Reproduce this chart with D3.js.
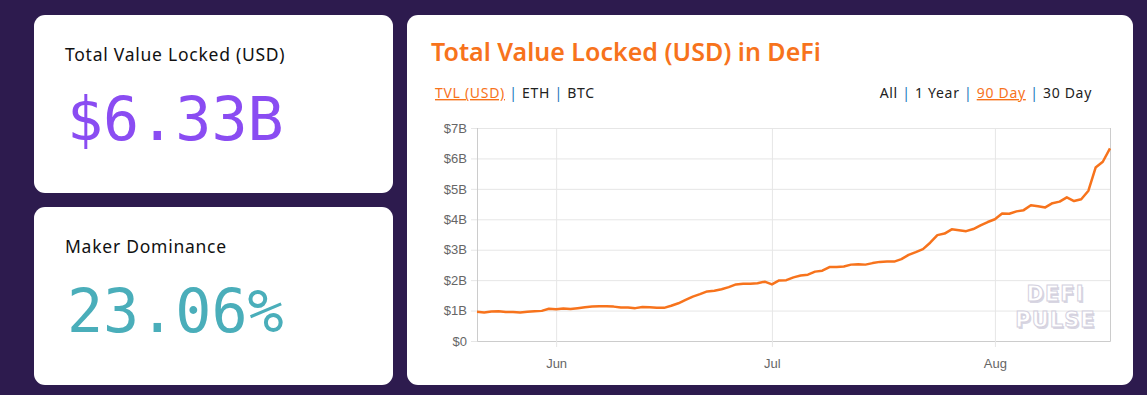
<!DOCTYPE html>
<html>
<head>
<meta charset="utf-8">
<script src="https://cdn.jsdelivr.net/npm/d3@7"></script>
<style>
  html, body { margin: 0; padding: 0; background: #2d1b4e; }
  svg { display: block; }
  .lbl { font-family: "Noto Sans", sans-serif; }
  .axis text { font-family: "Liberation Sans", Arial, sans-serif; fill: #666; }
</style>
</head>
<body>
<div id="root"></div>
<script>
// chart data: daily TVL in billions USD, 21 May - 17 Aug 2020
var startDate = new Date(2020, 4, 21);
var tvlValues = [
  0.96, 0.94, 0.97, 0.98, 0.95, 0.95, 0.94, 0.96, 0.98, 0.99,
  1.06, 1.04, 1.07, 1.05, 1.08, 1.11, 1.13, 1.14, 1.14, 1.13,
  1.10, 1.10, 1.08, 1.12, 1.11, 1.09, 1.09, 1.16, 1.24, 1.35,
  1.46, 1.54, 1.63, 1.65, 1.70, 1.77, 1.86, 1.88, 1.88, 1.90,
  1.95, 1.86, 1.99, 2.00, 2.09, 2.15, 2.18, 2.28, 2.31, 2.43,
  2.43, 2.45, 2.51, 2.52, 2.51, 2.56, 2.60, 2.61, 2.61, 2.69,
  2.83, 2.92, 3.02, 3.23, 3.48, 3.53, 3.67, 3.64, 3.61, 3.68,
  3.80, 3.91, 4.00, 4.19, 4.18, 4.26, 4.30, 4.46, 4.43, 4.39,
  4.53, 4.58, 4.72, 4.60, 4.66, 4.94, 5.70, 5.89, 6.33
];
var yTicks = [0, 1, 2, 3, 4, 5, 6, 7];
var xTickDates = [new Date(2020, 5, 1), new Date(2020, 6, 1), new Date(2020, 7, 1)];
var unitLinks = ["TVL (USD)", "ETH", "BTC"];
var rangeLinks = ["All", "1 Year", "90 Day", "30 Day"];
var statCards = [
  { label: "Total Value Locked (USD)", value: "$6.33B", color: "#8a4cf2" },
  { label: "Maker Dominance", value: "23.06%", color: "#4aaeba" }
];

var data = tvlValues.map(function (v, i) {
  return { date: d3.timeDay.offset(startDate, i), value: v };
});

var W = 1147, H = 395;
var svg = d3.select("#root").append("svg").attr("width", W).attr("height", H);

// stat cards on the left
statCards.forEach(function (c, i) {
  var g = svg.append("g").attr("transform", "translate(34," + (15 + i * 192) + ")");
  g.append("rect").attr("width", 359).attr("height", 178).attr("rx", 11).attr("fill", "#fff");
  g.append("text").attr("class", "lbl").attr("x", 31).attr("y", 46)
    .attr("font-size", 17.5).attr("letter-spacing", 0.75).attr("fill", "#111").text(c.label);
  g.append("text").attr("x", 33).attr("y", 125)
    .attr("font-family", "'DejaVu Sans Mono', monospace").attr("font-size", 60)
    .attr("fill", c.color).text(c.value);
});

// chart card
var card = svg.append("g").attr("transform", "translate(407,15)");
card.append("rect").attr("width", 726).attr("height", 370).attr("rx", 11).attr("fill", "#fff");

svg.append("text").attr("class", "lbl").attr("x", 431).attr("y", 61)
  .attr("font-size", 25).attr("font-weight", 600).attr("fill", "#f7731c")
  .text("Total Value Locked (USD) in DeFi");

function linkRow(items, active, x, anchor) {
  var t = svg.append("text").attr("class", "lbl").attr("x", x).attr("y", 98)
    .attr("font-size", 14).attr("letter-spacing", 0.7)
    .attr("text-anchor", anchor).attr("xml:space", "preserve");
  items.forEach(function (s, i) {
    if (i > 0) t.append("tspan").attr("fill", "#1b75bb").text(" | ");
    var ts = t.append("tspan").text(s).attr("fill", s === active ? "#f7731c" : "#222");
    if (s === active) ts.attr("text-decoration", "underline");
  });
}
linkRow(unitLinks, "TVL (USD)", 435, "start");
linkRow(rangeLinks, "90 Day", 1092, "end");

// plot area
var m = { left: 477, right: 1110, top: 128, bottom: 341 };
var x = d3.scaleTime()
  .domain([startDate, data[data.length - 1].date])
  .range([m.left, m.right]);
var y = d3.scaleLinear().domain([0, 7]).range([m.bottom, m.top]);

svg.append("g").attr("class", "axis")
  .attr("transform", "translate(" + m.left + ",0)")
  .call(d3.axisLeft(y).tickValues(yTicks).tickSize(-(m.right - m.left)).tickPadding(4)
    .tickFormat(function (d) { return "$" + (d === 0 ? "0" : d + "B"); }))
  .call(function (g) {
    g.select(".domain").attr("stroke", "#ddd");
    g.selectAll(".tick line").attr("stroke", "#e6e6e6").attr("x1", -6);
    g.selectAll(".tick text").attr("font-size", 13).attr("x", -10);
  });

svg.append("g").attr("class", "axis")
  .attr("transform", "translate(0," + m.bottom + ")")
  .call(d3.axisBottom(x).tickValues(xTickDates).tickSize(-(m.bottom - m.top)).tickPadding(18)
    .tickFormat(d3.timeFormat("%b")))
  .call(function (g) {
    g.select(".domain").attr("stroke", "#ccc");
    g.selectAll(".tick line").attr("stroke", "#e6e6e6").attr("y1", 6);
    g.selectAll(".tick text").attr("font-size", 13);
  });

// watermark
var wm = svg.append("g").attr("font-family", "'DejaVu Sans', sans-serif")
  .attr("font-weight", "bold").attr("font-size", 21).attr("text-anchor", "middle")
  .attr("letter-spacing", 1);
[["DEFI", 301], ["PULSE", 327]].forEach(function (w) {
  wm.append("text").attr("x", 1057).attr("y", w[1] + 1.5).attr("fill", "#d8d6e2").text(w[0]);
  wm.append("text").attr("x", 1055.5).attr("y", w[1])
    .attr("fill", "#fff").attr("stroke", "#d3d0de").attr("stroke-width", 1).text(w[0]);
});

svg.append("path").datum(data)
  .attr("fill", "none").attr("stroke", "#f7731c").attr("stroke-width", 2.5)
  .attr("stroke-linejoin", "round")
  .attr("d", d3.line().x(function (d) { return x(d.date); }).y(function (d) { return y(d.value); }));
</script>
</body>
</html>
